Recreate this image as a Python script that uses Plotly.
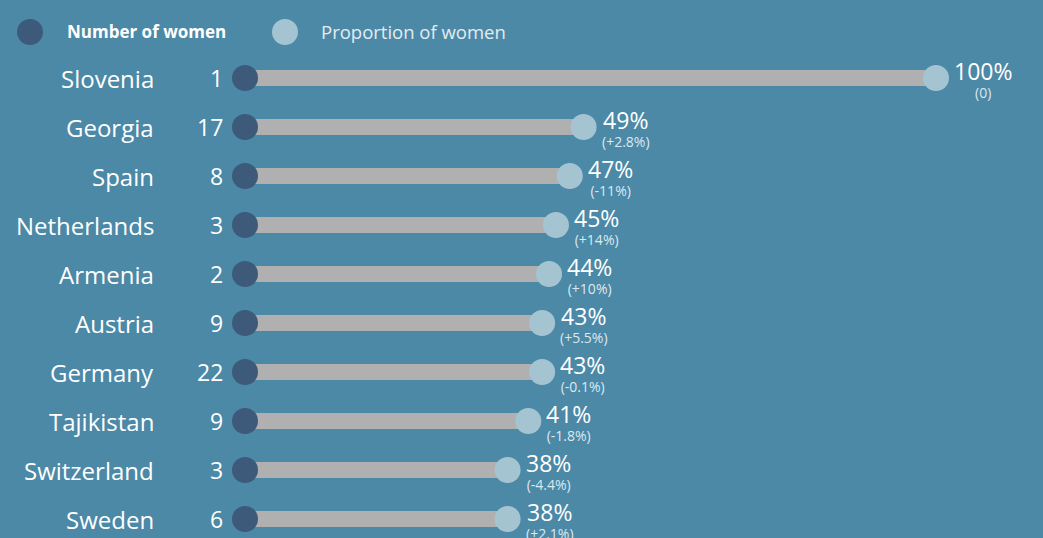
import plotly.graph_objects as go

countries = ["Slovenia", "Georgia", "Spain", "Netherlands", "Armenia", "Austria",
             "Germany", "Tajikistan", "Switzerland", "Sweden"]
num_women = [1, 17, 8, 3, 2, 9, 22, 9, 3, 6]
prop_women = [100, 49, 47, 45, 44, 43, 43, 41, 38, 38]
change_labels = ["(0)", "(+2.8%)", "(-11%)", "(+14%)", "(+10%)", "(+5.5%)",
                 "(-0.1%)", "(-1.8%)", "(-4.4%)", "(+2.1%)"]

BG = "#4b89a7"
DARK = "#3d5a7a"
LIGHT = "#a5c4d2"
BAR = "#b0b0b0"
FONT = "Open Sans"

fig = go.Figure()

# bars (grey segments from 0 to proportion)
bx, by = [], []
for c, p in zip(countries, prop_women):
    bx += [0, p, None]
    by += [c, c, None]
fig.add_trace(go.Scatter(x=bx, y=by, mode="lines", line=dict(color=BAR, width=16),
                         hoverinfo="skip", showlegend=False))

# number-of-women dots at 0
fig.add_trace(go.Scatter(x=[0] * len(countries), y=countries, mode="markers",
                         marker=dict(color=DARK, size=26, line=dict(width=0)),
                         name="Number of women", customdata=num_women,
                         hovertemplate="%{y}: %{customdata}<extra></extra>",
                         showlegend=False))

# proportion dots
fig.add_trace(go.Scatter(x=prop_women, y=countries, mode="markers",
                         marker=dict(color=LIGHT, size=26, line=dict(width=0)),
                         name="Proportion of women",
                         hovertemplate="%{y}: %{x}%<extra></extra>",
                         showlegend=False))

annotations = []
for c, n, p, ch in zip(countries, num_women, prop_women, change_labels):
    annotations.append(dict(x=0, y=c, xref="x", yref="y", text=c, showarrow=False,
                            xanchor="right", xshift=-89, yanchor="middle",
                            font=dict(family=FONT, size=24, color="#ffffff")))
    annotations.append(dict(x=0, y=c, xref="x", yref="y", text=str(n), showarrow=False,
                            xanchor="right", xshift=-20, yanchor="middle",
                            font=dict(family=FONT, size=23, color="#ffffff")))
    annotations.append(dict(x=p, y=c, xref="x", yref="y",
                            text=f"<span style='font-size:23px;color:#ffffff'>{p}%</span>"
                                 f"<br>{ch}",
                            showarrow=False, xanchor="left", xshift=16, yanchor="middle",
                            yshift=0, align="center",
                            font=dict(family=FONT, size=14, color="#dde8ee")))

# legend (manual)
annotations.append(dict(x=65 / 1043, y=1 - 32 / 538, xref="paper", yref="paper",
                        text="<b>Number of women</b>", showarrow=False, xanchor="left",
                        yanchor="middle", font=dict(family=FONT, size=17, color="#ffffff")))
annotations.append(dict(x=319 / 1043, y=1 - 32 / 538, xref="paper", yref="paper",
                        text="Proportion of women", showarrow=False, xanchor="left",
                        yanchor="middle", font=dict(family=FONT, size=18.5, color="#e3ecf1")))
shapes = [
    dict(type="circle", xref="paper", yref="paper",
         x0=17 / 1043, x1=43 / 1043, y0=1 - 45 / 538, y1=1 - 19 / 538,
         fillcolor=DARK, line=dict(width=0)),
    dict(type="circle", xref="paper", yref="paper",
         x0=272 / 1043, x1=298 / 1043, y0=1 - 45 / 538, y1=1 - 19 / 538,
         fillcolor=LIGHT, line=dict(width=0)),
]

px_per = 6.91
fig.update_layout(
    width=1043, height=538,
    margin=dict(l=0, r=0, t=0, b=0),
    paper_bgcolor=BG, plot_bgcolor=BG,
    xaxis=dict(range=[-245 / px_per, (1043 - 245) / px_per], visible=False, fixedrange=True),
    yaxis=dict(type="category", categoryorder="array", categoryarray=countries,
               range=[(538 - 78) / 49, -78 / 49], visible=False, fixedrange=True),
    annotations=annotations, shapes=shapes,
    showlegend=False,
    font=dict(family=FONT, color="#ffffff"),
)

fig.write_html("out.html", config={"displayModeBar": False},
               post_script="document.body.style.margin='0px';document.body.style.background='%s';" % BG)
